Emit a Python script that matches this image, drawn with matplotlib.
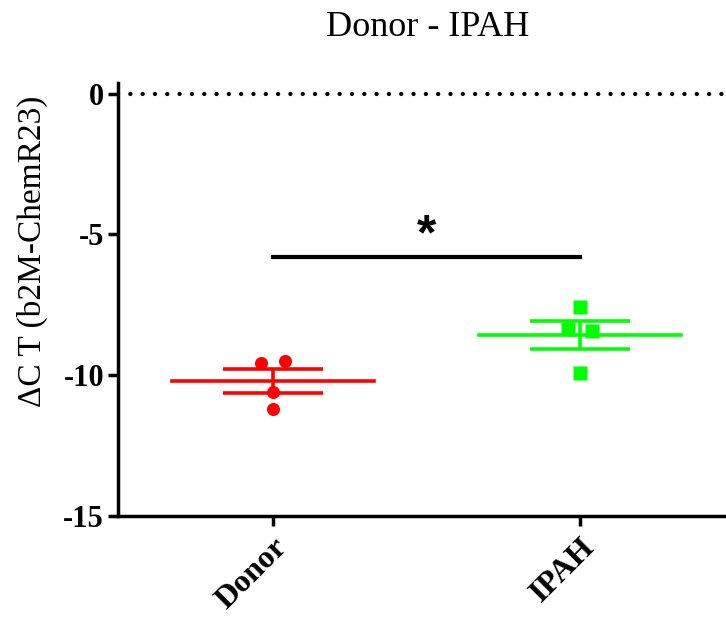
import matplotlib
matplotlib.use("Agg")
import matplotlib.pyplot as plt
import numpy as np

plt.rcParams['font.family'] = ['Liberation Serif', 'DejaVu Serif']
plt.rcParams['axes.unicode_minus'] = False

groups = ['Donor', 'IPAH']
donor = [-9.56, -9.49, -10.59, -11.20]
ipah = [-7.57, -8.35, -8.43, -9.92]
donor_jitter = [-0.04, 0.04, 0.0, 0.0]
ipah_jitter = [0.0, -0.04, 0.04, 0.0]
colors = ['#ff0000', '#00ff00']
markers = ['o', 's']
sig_y = -5.79
yticks = [0, -5, -10, -15]

fig = plt.figure(figsize=(7.26, 6.19), dpi=100)
ax = fig.add_axes([118 / 726, 1 - 516 / 619, 1 - 118 / 726, (516 - 83) / 619])

for i, (vals, jit) in enumerate([(donor, donor_jitter), (ipah, ipah_jitter)]):
    vals = np.array(vals)
    mean = vals.mean()
    sem = vals.std(ddof=1) / np.sqrt(len(vals))
    ax.plot(i + np.array(jit), vals, linestyle='none', marker=markers[i],
            ms=9.4, color=colors[i], mec='none', zorder=3)
    ax.plot([i - 0.33, i + 0.33], [mean, mean], color=colors[i], lw=2.6, zorder=2)
    ax.errorbar(i, mean, yerr=sem, fmt='none', ecolor=colors[i], elinewidth=2.6,
                capsize=36, capthick=2.6, zorder=2)

# dotted reference line at zero
ax.plot([-0.505, 1.476], [0, 0], color='black', lw=3.1, ls=(0, (0.01, 2.85)),
        dash_capstyle='round', zorder=1)

# significance bar
ax.plot([0, 1], [sig_y, sig_y], color='black', lw=3)
ax.text(0.5, sig_y - 0.08, '*', ha='center', va='bottom', fontsize=36,
        fontweight='bold', family=['Liberation Sans'])

ax.set_xlim(-0.505, 1.476)
ax.set_ylim(-15, 0.38)
ax.set_yticks(yticks)
ax.set_yticklabels([str(t) for t in yticks], fontsize=22, fontweight='bold')
ax.set_xticks(range(len(groups)))
ax.set_xticklabels(groups, fontsize=23, fontweight='bold', rotation=45,
                   ha='right', va='top', rotation_mode='anchor')

for side in ['top', 'right']:
    ax.spines[side].set_visible(False)
for side in ['left', 'bottom']:
    ax.spines[side].set_linewidth(2.5)
ax.tick_params(axis='both', width=2.5, length=7, direction='out')
ax.tick_params(axis='y', pad=3)
ax.tick_params(axis='x', pad=5)

fig.text(428 / 726, 1 - 27 / 619, 'Donor - IPAH', ha='center', va='center', fontsize=26)
fig.text(32 / 726, 1 - 251 / 619, 'ΔC T (b2M-ChemR23)', ha='center', va='center',
         rotation=90, fontsize=24)

fig.savefig('out.png', dpi=100)
